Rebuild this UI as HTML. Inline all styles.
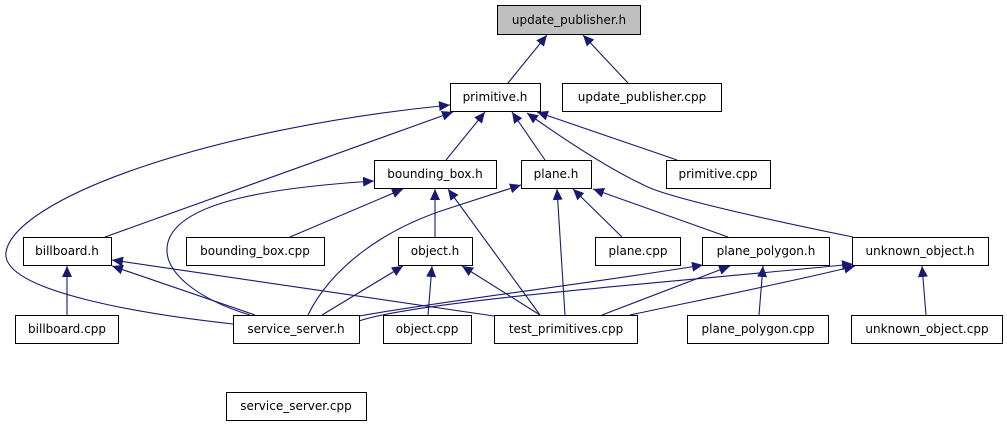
<!DOCTYPE html>
<html><head><meta charset="utf-8"><style>
html,body{margin:0;padding:0;background:#fff;}
svg{display:block;}
text{font-family:"DejaVu Sans","Liberation Sans",sans-serif;font-size:12px;fill:#000;}
</style></head><body>
<svg width="1007" height="427" viewBox="0 0 1007 427" xmlns="http://www.w3.org/2000/svg">
<defs>
<marker id="a" markerUnits="userSpaceOnUse" markerWidth="12" markerHeight="10" refX="11" refY="5" orient="auto">
<path d="M0,0 L11,5 L0,10 Z" fill="#191970"/>
</marker>
</defs>
<g fill="none" stroke="#191970" stroke-width="1.1" marker-end="url(#a)">
<path d="M508,83 L547,35"/>
<path d="M628,83 L583,35"/>
<path d="M446,160 L485,112"/>
<path d="M545,160 L512,112"/>
<path d="M677,160 L537,112"/>
<path d="M853,237 C760,218 680,200 650,188 C610,170 565,140 527,113"/>
<path d="M105,237 L453,112"/>
<path d="M233,324 C150,315 0,292 6,252 C15,200 200,130 450,105"/>
<path d="M290,237 L403,189"/>
<path d="M435,237 L435,189"/>
<path d="M540,315 L448,189"/>
<path d="M250,315 C200,300 160,272 168,242 C180,200 280,187 374,181"/>
<path d="M308,315 C330,270 380,230 450,208 L521,185"/>
<path d="M565,315 L557,189"/>
<path d="M622,237 L573,189"/>
<path d="M728,237 L593,189"/>
<path d="M67,315 L67,266"/>
<path d="M255,315 L112,266"/>
<path d="M494,316 L112,260"/>
<path d="M322,315 L403,266"/>
<path d="M428,315 L432,266"/>
<path d="M540,315 L462,266"/>
<path d="M359,316 C450,300 600,282 703,265"/>
<path d="M602,315 L730,266"/>
<path d="M759,315 L763,266"/>
<path d="M359,321 C420,300 700,280 853,264"/>
<path d="M630,315 C700,300 800,280 855,266"/>
<path d="M926,315 L922,266"/>
</g>
<g stroke="#000" stroke-width="1">
<rect x="497.5" y="5.5" width="143" height="29" fill="#bfbfbf"/>
<rect x="450.5" y="83.5" width="90" height="28" fill="#fff"/>
<rect x="562.5" y="83.5" width="159" height="28" fill="#fff"/>
<rect x="374.5" y="160.5" width="122" height="28" fill="#fff"/>
<rect x="521.5" y="160.5" width="70" height="28" fill="#fff"/>
<rect x="666.5" y="160.5" width="104" height="28" fill="#fff"/>
<rect x="23.5" y="237.5" width="88" height="28" fill="#fff"/>
<rect x="186.5" y="237.5" width="138" height="28" fill="#fff"/>
<rect x="398.5" y="237.5" width="74" height="28" fill="#fff"/>
<rect x="595.5" y="237.5" width="85" height="28" fill="#fff"/>
<rect x="702.5" y="237.5" width="127" height="28" fill="#fff"/>
<rect x="852.5" y="237.5" width="136" height="28" fill="#fff"/>
<rect x="15.5" y="315.5" width="103" height="28" fill="#fff"/>
<rect x="233.5" y="315.5" width="126" height="28" fill="#fff"/>
<rect x="383.5" y="315.5" width="88" height="28" fill="#fff"/>
<rect x="494.5" y="315.5" width="143" height="28" fill="#fff"/>
<rect x="687.5" y="315.5" width="141" height="28" fill="#fff"/>
<rect x="851.5" y="315.5" width="151" height="28" fill="#fff"/>
<rect x="226.5" y="392.5" width="140" height="28" fill="#fff"/>
</g>
<g text-anchor="middle">
<text x="569" y="24">update_publisher.h</text>
<text x="495" y="101">primitive.h</text>
<text x="642" y="101">update_publisher.cpp</text>
<text x="435" y="178">bounding_box.h</text>
<text x="556" y="178">plane.h</text>
<text x="718" y="178">primitive.cpp</text>
<text x="67" y="255">billboard.h</text>
<text x="255" y="255">bounding_box.cpp</text>
<text x="435" y="255">object.h</text>
<text x="638" y="255">plane.cpp</text>
<text x="766" y="255">plane_polygon.h</text>
<text x="920" y="255">unknown_object.h</text>
<text x="67" y="333">billboard.cpp</text>
<text x="296" y="333">service_server.h</text>
<text x="427" y="333">object.cpp</text>
<text x="566" y="333">test_primitives.cpp</text>
<text x="758" y="333">plane_polygon.cpp</text>
<text x="927" y="333">unknown_object.cpp</text>
<text x="296" y="410">service_server.cpp</text>
</g>
</svg>
</body></html>
